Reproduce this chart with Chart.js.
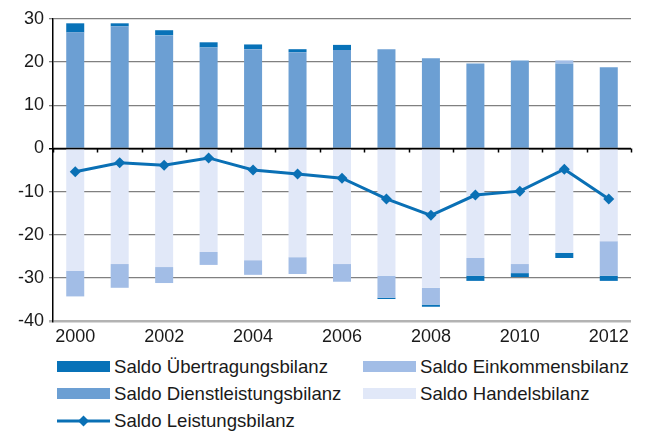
<!DOCTYPE html>
<html>
<head>
<meta charset="utf-8">
<script src="https://cdn.jsdelivr.net/npm/chart.js@4/dist/chart.umd.min.js"></script>
<style>
  html, body { margin: 0; padding: 0; background: #ffffff; }
  #wrap { position: relative; width: 646px; height: 432px; font-family: 'Liberation Sans', Arial, sans-serif; color: #1a1a1a; }
  #cv { position: absolute; left: 0; top: 0; }
  .lg { position: absolute; font-size: 18.6px; line-height: 20px; white-space: nowrap; }
  .sw { position: absolute; }
</style>
</head>
<body>
<div id="wrap">
  <canvas id="cv" width="646" height="345"></canvas>
  <div id="legend"></div>
</div>
<script>
// ---- Data ----
const years = ['2000','2001','2002','2003','2004','2005','2006','2007','2008','2009','2010','2011','2012'];
const dienstleistung = [26.9, 28.3, 26.2, 23.4, 23.0, 22.3, 22.8, 23.0, 20.9, 19.7, 20.4, 19.7, 18.8];
const handel = [-28.4, -26.8, -27.5, -24.0, -25.9, -25.2, -26.8, -29.5, -32.3, -25.4, -26.8, -24.2, -21.5];
const einkommen = [-5.9, -5.5, -3.7, -3.0, -3.4, -3.9, -4.1, -5.1, -3.9, -4.1, -2.1, 0.7, -8.0];
const uebertragung = [2.1, 0.7, 1.2, 1.2, 1.1, 0.7, 1.2, -0.3, -0.5, -1.2, -0.9, -1.2, -1.2];
const leistung = [-5.4, -3.3, -3.9, -2.2, -5.0, -5.9, -6.9, -11.7, -15.5, -10.8, -9.9, -4.8, -11.7];

const names = {
  ueb: 'Saldo Übertragungsbilanz',
  ein: 'Saldo Einkommensbilanz',
  die: 'Saldo Dienstleistungsbilanz',
  han: 'Saldo Handelsbilanz',
  lei: 'Saldo Leistungsbilanz'
};
const colors = {
  ueb: '#0872b8',
  ein: '#a2bde6',
  die: '#6c9fd3',
  han: '#e1e8f8',
  lei: '#0a70b5'
};

const FONT = "'Liberation Sans', Arial, sans-serif";

const zeroAxis = {
  id: 'zeroAxis',
  afterDatasetsDraw(chart) {
    const { ctx, chartArea, scales } = chart;
    const y0 = scales.y.getPixelForValue(0);
    const xs = scales.x;
    ctx.save();
    ctx.strokeStyle = '#000';
    ctx.lineWidth = 1.5;
    ctx.beginPath();
    ctx.moveTo(chartArea.left, y0);
    ctx.lineTo(chartArea.right, y0);
    const n = years.length;
    for (let i = 0; i <= n; i++) {
      let x;
      if (i === 0) x = chartArea.left;
      else if (i === n) x = chartArea.right;
      else x = (xs.getPixelForValue(i - 1) + xs.getPixelForValue(i)) / 2;
      x = Math.round(x) + 0.5;
      ctx.moveTo(x, y0);
      ctx.lineTo(x, y0 + 4);
    }
    ctx.stroke();
    ctx.restore();
  }
};

const barCommon = { stack: 'bars', order: 1, categoryPercentage: 1.0, barPercentage: 0.405, borderWidth: 0 };

new Chart(document.getElementById('cv'), {
  type: 'bar',
  data: {
    labels: years,
    datasets: [
      Object.assign({ label: names.die, data: dienstleistung, backgroundColor: colors.die }, barCommon),
      Object.assign({ label: names.han, data: handel, backgroundColor: colors.han }, barCommon),
      Object.assign({ label: names.ein, data: einkommen, backgroundColor: colors.ein }, barCommon),
      Object.assign({ label: names.ueb, data: uebertragung, backgroundColor: colors.ueb }, barCommon),
      {
        type: 'line', label: names.lei, data: leistung, stack: 'line', order: 0,
        borderColor: colors.lei, backgroundColor: colors.lei, borderWidth: 3, tension: 0,
        pointStyle: 'rectRot', pointRadius: 5.5, pointBorderWidth: 0, fill: false
      }
    ]
  },
  options: {
    responsive: false,
    animation: false,
    devicePixelRatio: 1,
    layout: { padding: { top: 19, right: 15, left: 0, bottom: 0 } },
    plugins: { legend: { display: false }, tooltip: { enabled: false } },
    scales: {
      x: {
        stacked: true,
        grid: { display: false, drawTicks: false },
        border: { display: false },
        ticks: {
          autoSkip: false, maxRotation: 0, padding: 5,
          color: '#1a1a1a', font: { family: FONT, size: 18 },
          callback: function (v, i) { return i % 2 === 0 ? this.getLabelForValue(v) : ''; }
        },
        afterFit: s => { s.height = 24; }
      },
      y: {
        stacked: true,
        min: -40, max: 30,
        border: { display: true, color: '#000', width: 1.5 },
        grid: {
          tickLength: 4,
          color: c => {
            const v = c.tick.value;
            if (v === 0) return '#000';
            if (v === -40) return '#b3b3b3';
            return v % 10 === 0 ? '#808080' : '#b4b4b4';
          },
          lineWidth: c => {
            const v = c.tick.value;
            if (v === 0) return 1.5;
            if (v === -40) return 2.5;
            return v % 10 === 0 ? 1.3 : 2;
          }
        },
        ticks: {
          stepSize: 5, padding: 5,
          color: '#1a1a1a', font: { family: FONT, size: 18 },
          callback: v => (v % 10 === 0 ? String(v) : '')
        },
        afterFit: s => { s.width = 53; }
      }
    }
  },
  plugins: [zeroAxis]
});

// ---- HTML legend ----
const legendItems = [
  { key: 'ueb', col: 0, row: 0 },
  { key: 'ein', col: 1, row: 0 },
  { key: 'die', col: 0, row: 1 },
  { key: 'han', col: 1, row: 1 },
  { key: 'lei', col: 0, row: 2, line: true }
];
const colX = [57, 363];
const rowY = [366.5, 393.5, 421];
const lg = document.getElementById('legend');
legendItems.forEach(it => {
  const cx = colX[it.col], cy = rowY[it.row];
  if (it.line) {
    const svg = document.createElementNS('http://www.w3.org/2000/svg', 'svg');
    svg.setAttribute('width', '56'); svg.setAttribute('height', '14');
    svg.style.position = 'absolute';
    svg.style.left = cx + 'px'; svg.style.top = (cy - 7) + 'px';
    svg.innerHTML = '<line x1="0" y1="7" x2="53" y2="7" stroke="' + colors.lei + '" stroke-width="3"/>' +
      '<polygon points="26.5,1.5 32,7 26.5,12.5 21,7" fill="' + colors.lei + '"/>';
    lg.appendChild(svg);
  } else {
    const sw = document.createElement('div');
    sw.className = 'sw';
    sw.style.left = cx + 'px'; sw.style.top = (cy - 5.5) + 'px';
    sw.style.width = '53px'; sw.style.height = '11px';
    sw.style.background = colors[it.key];
    lg.appendChild(sw);
  }
  const t = document.createElement('div');
  t.className = 'lg';
  t.textContent = names[it.key];
  t.style.left = (cx + 57) + 'px';
  t.style.top = (cy - 10) + 'px';
  lg.appendChild(t);
});
</script>
</body>
</html>
